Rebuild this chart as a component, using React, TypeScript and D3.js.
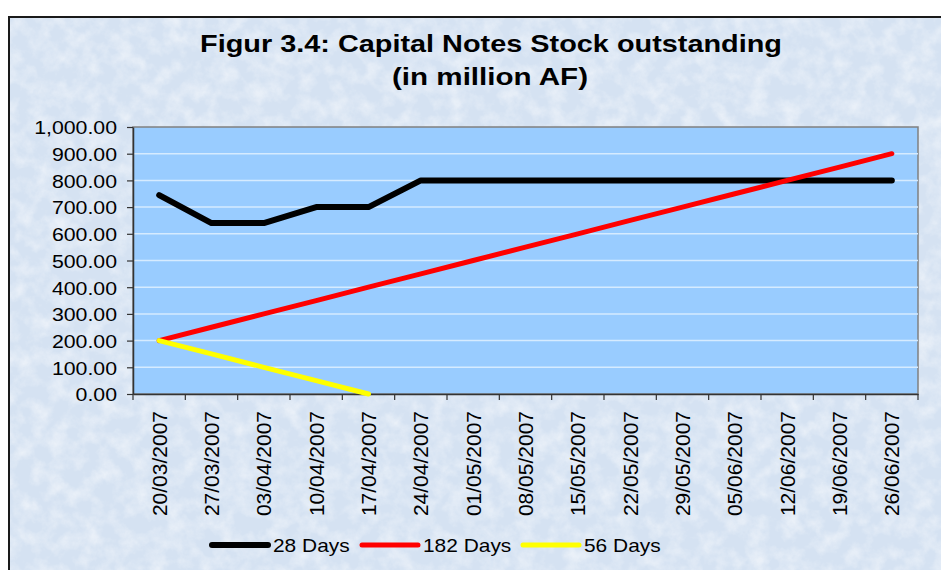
import React, { useEffect, useRef } from 'react';
import * as d3 from 'd3';

const dates = [
  '20/03/2007', '27/03/2007', '03/04/2007', '10/04/2007', '17/04/2007',
  '24/04/2007', '01/05/2007', '08/05/2007', '15/05/2007', '22/05/2007',
  '29/05/2007', '05/06/2007', '12/06/2007', '19/06/2007', '26/06/2007',
];
const days28 = [745, 640, 640, 700, 700, 800, 800, 800, 800, 800, 800, 800, 800, 800, 800];
const days182 = [200, 250, 300, 350, 400, 450, 500, 550, 600, 650, 700, 750, 800, 850, 900];
const days56 = [200, 150, 100, 50, 0];
const yTicks = [0, 100, 200, 300, 400, 500, 600, 700, 800, 900, 1000];

const series = [
  { name: '28 Days', values: days28, color: '#000000', width: 6 },
  { name: '182 Days', values: days182, color: '#FF0000', width: 5 },
  { name: '56 Days', values: days56, color: '#FFFF00', width: 5 },
];

const W = 941;
const H = 570;
const plot = { left: 133, right: 918, top: 127, bottom: 394 };
const font = '"Liberation Sans", Arial, sans-serif';

// the source picture is a bit wider than tall, so text gets stretched sideways
function stretch(sel, k) {
  sel.each(function () {
    const len = this.getComputedTextLength();
    d3.select(this).attr('textLength', len * k).attr('lengthAdjust', 'spacingAndGlyphs');
  });
}

const App = () => {
  const ref = useRef(null);

  useEffect(() => {
    const svg = d3.select(ref.current);
    svg.selectAll('*').remove();

    // mottled background
    const defs = svg.append('defs');
    const filt = defs.append('filter').attr('id', 'mottle')
      .attr('x', 0).attr('y', 0).attr('width', 1).attr('height', 1);
    filt.append('feTurbulence').attr('type', 'fractalNoise')
      .attr('baseFrequency', 0.06).attr('numOctaves', 4).attr('seed', 7);
    filt.append('feColorMatrix').attr('type', 'matrix')
      .attr('values', '0 0 0 0 1  0 0 0 0 1  0 0 0 0 1  2.0 0 0 0 -0.75');

    svg.append('rect').attr('x', 8).attr('y', 16)
      .attr('width', W - 8).attr('height', H - 16)
      .attr('fill', '#D5E2F2');
    svg.append('rect').attr('x', 8).attr('y', 16)
      .attr('width', W - 8).attr('height', H - 16)
      .attr('filter', 'url(#mottle)').attr('opacity', 0.5);
    svg.append('path')
      .attr('d', `M9,${H}V17H${W}`)
      .attr('fill', 'none').attr('stroke', '#1a1a1a').attr('stroke-width', 2);

    // title
    const title = svg.append('text')
      .attr('text-anchor', 'middle')
      .attr('font-family', font).attr('font-weight', 'bold').attr('font-size', 24)
      .attr('fill', '#000');
    title.append('tspan').attr('x', 491).attr('y', 52)
      .attr('textLength', 582).attr('lengthAdjust', 'spacingAndGlyphs')
      .text('Figur 3.4: Capital Notes Stock outstanding');
    title.append('tspan').attr('x', 490).attr('y', 85)
      .attr('textLength', 196).attr('lengthAdjust', 'spacingAndGlyphs')
      .text('(in million AF)');

    const x = d3.scaleBand().domain(dates).range([plot.left, plot.right]);
    const y = d3.scaleLinear().domain([0, 1000]).range([plot.bottom, plot.top]);

    svg.append('rect')
      .attr('x', plot.left).attr('y', plot.top)
      .attr('width', plot.right - plot.left).attr('height', plot.bottom - plot.top)
      .attr('fill', '#99CCFF').attr('stroke', '#808080').attr('stroke-width', 1.5);

    svg.append('g').selectAll('line')
      .data(yTicks.slice(1, -1))
      .enter()
      .append('line')
      .attr('x1', plot.left).attr('x2', plot.right)
      .attr('y1', (d) => y(d)).attr('y2', (d) => y(d))
      .attr('stroke', '#D6EBFF').attr('stroke-width', 1.5);

    // y axis
    const yAxis = svg.append('g')
      .attr('transform', `translate(${plot.left},0)`)
      .call(d3.axisLeft(y).tickValues(yTicks).tickFormat(d3.format(',.2f'))
        .tickSize(6).tickSizeOuter(0).tickPadding(10));
    yAxis.select('.domain').attr('stroke', '#333').attr('stroke-width', 1.5);
    yAxis.selectAll('.tick line').attr('stroke', '#333').attr('stroke-width', 1.2);
    yAxis.selectAll('text')
      .attr('font-family', font).attr('font-size', 19).attr('fill', '#000')
      .attr('dy', '0.36em');
    stretch(yAxis.selectAll('text'), 1.12);

    // x axis
    const xAxis = svg.append('g')
      .attr('transform', `translate(0,${plot.bottom})`)
      .call(d3.axisBottom(x).tickSize(0).tickPadding(0));
    xAxis.select('.domain').attr('stroke', '#333').attr('stroke-width', 1.5);
    xAxis.selectAll('text')
      .attr('font-family', font).attr('font-size', 21).attr('fill', '#000')
      .attr('transform', 'rotate(-90)')
      .attr('text-anchor', 'end')
      .attr('x', -17).attr('y', 0).attr('dy', '0.36em');
    const bounds = dates.map((d) => x(d)).concat([plot.right]);
    xAxis.selectAll('.bound')
      .data(bounds)
      .enter()
      .append('line')
      .attr('x1', (d) => d).attr('x2', (d) => d)
      .attr('y1', 0).attr('y2', 6)
      .attr('stroke', '#333').attr('stroke-width', 1.2);

    // lines
    const line = d3.line()
      .x((d, i) => x(dates[i]) + x.bandwidth() / 2)
      .y((d) => y(d));
    series.forEach((s) => {
      svg.append('path')
        .datum(s.values)
        .attr('d', line)
        .attr('fill', 'none')
        .attr('stroke', s.color)
        .attr('stroke-width', s.width)
        .attr('stroke-linejoin', 'round')
        .attr('stroke-linecap', 'round');
    });

    // legend
    const legendX = [212, 362, 523];
    const leg = svg.append('g').selectAll('g')
      .data(series)
      .enter()
      .append('g')
      .attr('transform', (d, i) => `translate(${legendX[i]},545)`);
    leg.append('line')
      .attr('x1', 0).attr('x2', 56)
      .attr('stroke', (d) => d.color).attr('stroke-width', (d) => d.width)
      .attr('stroke-linecap', 'round');
    leg.append('text')
      .attr('x', 61).attr('y', 0).attr('dy', '0.36em')
      .attr('font-family', font).attr('font-size', 19)
      .text((d) => d.name);
    stretch(leg.selectAll('text'), 1.1);
  }, []);

  return (
    <svg ref={ref} width={W} height={H}
      style={{ position: 'absolute', left: 0, top: 0, display: 'block' }} />
  );
};

export default App;
